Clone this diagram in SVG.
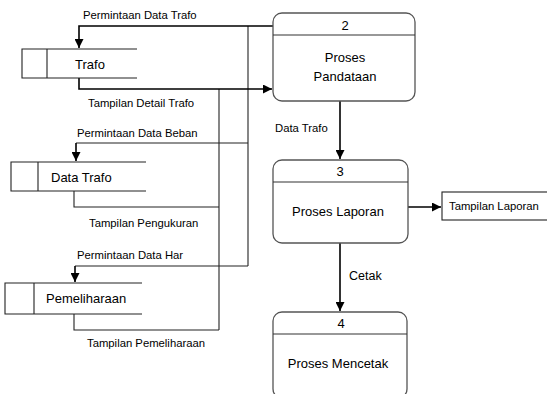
<svg xmlns="http://www.w3.org/2000/svg" width="547" height="394" viewBox="0 0 547 394">
  <defs>
    <marker id="arrow" viewBox="0 0 10 10" refX="10" refY="5" markerWidth="9" markerHeight="9" markerUnits="userSpaceOnUse" orient="auto">
      <path d="M0,0 L10,5 L0,10 Z" fill="#000"/>
    </marker>
    <style>
      text { font-family: "Liberation Sans", Arial, sans-serif; fill: #000; }
      .lbl { font-size: 11.3px; }
      .big { font-size: 13px; }
      .mid { text-anchor: middle; }
      .proc { fill: #fff; stroke: #555; stroke-width: 1.3; }
      .div { stroke: #333; stroke-width: 1.2; }
      .store { fill: none; stroke: #222; stroke-width: 1.1; }
      .flow { fill: none; stroke: #000; stroke-width: 1.6; }
      .thin { fill: none; stroke: #222; stroke-width: 1.1; }
      .ext { fill: #fff; stroke: #222; stroke-width: 1.1; }
    </style>
  </defs>
  <rect width="547" height="394" fill="#fff"/>

  <!-- connectors -->
  <g id="connectors">
    <path class="thin" d="M248,26 V266"/>
    <path class="thin" d="M219,89 V330"/>
    <path class="flow" d="M273,26 H79 V48" marker-end="url(#arrow)"/>
    <path class="flow" d="M79,78 V89 H272" marker-end="url(#arrow)"/>
    <path class="thin" d="M248,143 H76"/>
    <path class="flow" d="M76,143 V161" marker-end="url(#arrow)"/>
    <path class="thin" d="M74,191 V207 H219"/>
    <path class="thin" d="M248,266 H75"/>
    <path class="flow" d="M75,266 V282" marker-end="url(#arrow)"/>
    <path class="thin" d="M74,314 V330 H219"/>
    <path class="flow" d="M340,101 V159" marker-end="url(#arrow)"/>
    <path class="flow" d="M340,243 V311" marker-end="url(#arrow)"/>
    <path class="flow" d="M408,207 H441" marker-end="url(#arrow)"/>
    <text class="lbl" x="83" y="19">Permintaan Data Trafo</text>
    <text class="lbl" x="88" y="107">Tampilan Detail Trafo</text>
    <text class="lbl" x="77" y="137">Permintaan Data Beban</text>
    <text class="lbl" x="89" y="227">Tampilan Pengukuran</text>
    <text class="lbl" x="77" y="259">Permintaan Data Har</text>
    <text class="lbl" x="87" y="347">Tampilan Pemeliharaan</text>
    <text class="lbl" x="275" y="132">Data Trafo</text>
    <text x="349" y="280" font-size="12.5">Cetak</text>
  </g>

  <!-- data stores -->
  <g id="store-trafo">
    <path class="store" d="M137,49 H22 V78 H137 M47,49 V78"/>
    <text class="big" x="75" y="69">Trafo</text>
  </g>
  <g id="store-data-trafo">
    <path class="store" d="M146,162 H11 V191 H146 M38,162 V191"/>
    <text class="big" x="51" y="182">Data Trafo</text>
  </g>
  <g id="store-pemeliharaan">
    <path class="store" d="M142,283 H5 V314 H142 M34,283 V314"/>
    <text class="big" x="46" y="303">Pemeliharaan</text>
  </g>

  <!-- processes -->
  <g id="proc-2">
    <rect class="proc" x="273" y="13" width="142" height="88" rx="9"/>
    <line class="div" x1="273" y1="35" x2="415" y2="35"/>
    <text class="big mid" x="345" y="30">2</text>
    <text class="big mid" x="345" y="62">Proses</text>
    <text class="big mid" x="345" y="81">Pandataan</text>
  </g>
  <g id="proc-3">
    <rect class="proc" x="273" y="160" width="135" height="83" rx="9"/>
    <line class="div" x1="273" y1="182" x2="408" y2="182"/>
    <text class="big mid" x="340" y="176">3</text>
    <text class="big mid" x="338" y="216">Proses Laporan</text>
  </g>
  <g id="proc-4">
    <rect class="proc" x="273" y="312" width="134" height="86" rx="9"/>
    <line class="div" x1="273" y1="334" x2="407" y2="334"/>
    <text class="big mid" x="341" y="328">4</text>
    <text class="big mid" x="338" y="368">Proses Mencetak</text>
  </g>

  <!-- external entity -->
  <g id="ext-tampilan-laporan">
    <rect class="ext" x="442" y="192" width="110" height="28"/>
    <text class="lbl" x="449" y="210">Tampilan Laporan</text>
  </g>
</svg>
